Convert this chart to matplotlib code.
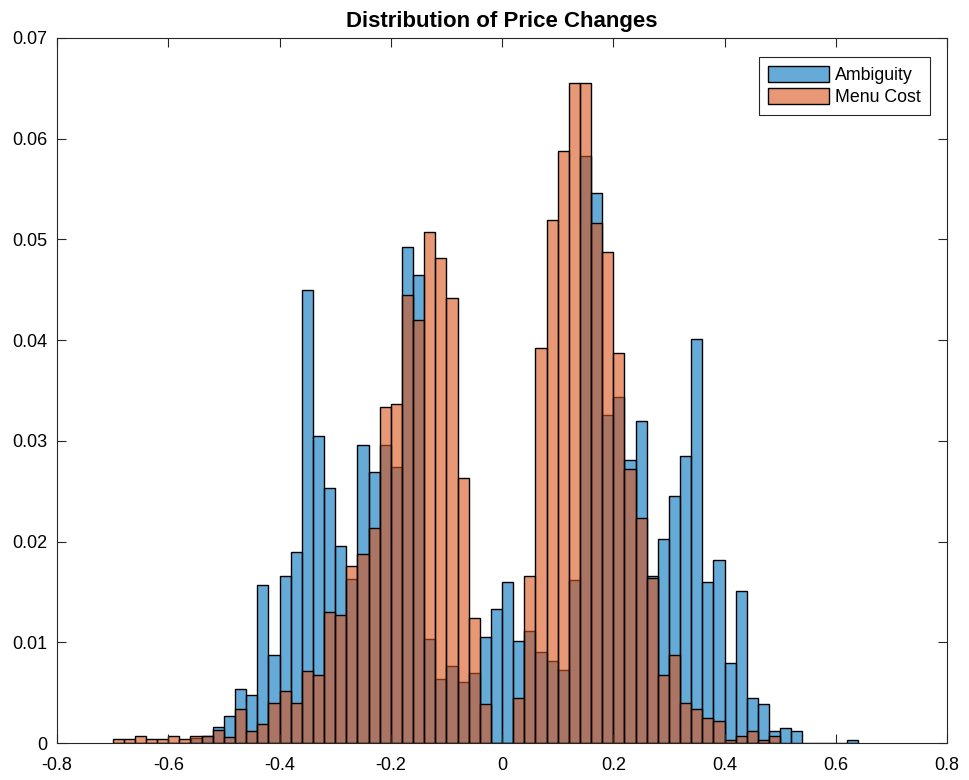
import numpy as np
import matplotlib
matplotlib.use("Agg")
import matplotlib.pyplot as plt

# histogram bins (width 0.02), left edge of first bin at -0.70
bin_width = 0.02
bin_left = np.round(-0.70 + bin_width * np.arange(67), 2)

# normalized frequencies
ambiguity = [0, 0, 0, 0, 0, 0, 0, 0.0005, 0.0007, 0.0016,
             0.0027, 0.0054, 0.0048, 0.0157, 0.0087, 0.0166, 0.0190, 0.0450, 0.0305, 0.0253,
             0.0196, 0.0163, 0.0296, 0.0269, 0.0296, 0.0274, 0.0492, 0.0465, 0.0103, 0.0064,
             0.0076, 0.0061, 0.0070, 0.0105, 0.0133, 0.0160, 0.0101, 0.0111, 0.0090, 0.0081,
             0.0072, 0.0162, 0.0583, 0.0546, 0.0326, 0.0344, 0.0281, 0.0320, 0.0166, 0.0203,
             0.0245, 0.0285, 0.0401, 0.0160, 0.0182, 0.0079, 0.0151, 0.0045, 0.0039, 0.0012,
             0.0015, 0.0012, 0, 0, 0, 0, 0.0003]
menu_cost = [0.0004, 0.0004, 0.0007, 0.0004, 0.0004, 0.0007, 0.0004, 0.0007, 0.0007, 0.0013,
             0.0006, 0.0034, 0.0012, 0.0019, 0.0040, 0.0052, 0.0040, 0.0071, 0.0068, 0.0130,
             0.0127, 0.0176, 0.0188, 0.0213, 0.0334, 0.0337, 0.0445, 0.0420, 0.0507, 0.0482,
             0.0442, 0.0263, 0.0124, 0.0039, 0, 0, 0.0045, 0.0166, 0.0392, 0.0519,
             0.0588, 0.0655, 0.0655, 0.0516, 0.0488, 0.0387, 0.0272, 0.0223, 0.0164, 0.0068,
             0.0087, 0.0040, 0.0034, 0.0025, 0.0022, 0.0003, 0.0007, 0.0012, 0.0003, 0.0007]
menu_left = bin_left[:len(menu_cost)]

blue = (0.0, 0.447, 0.741, 0.6)
orange = (0.85, 0.325, 0.098, 0.6)
axcol = (0.15, 0.15, 0.15)

plt.rcParams['font.family'] = ['Liberation Sans', 'DejaVu Sans']

fig = plt.figure(figsize=(9.69, 7.80), dpi=100)
ax = fig.add_axes([57 / 969, 1 - 743 / 780, 890 / 969, 705 / 780])

ax.bar(bin_left, ambiguity, width=bin_width, align='edge', color=blue,
       edgecolor='k', linewidth=1.0, label='Ambiguity')
ax.bar(menu_left, menu_cost, width=bin_width, align='edge', color=orange,
       edgecolor='k', linewidth=1.0, label='Menu Cost')

ax.set_xlim(-0.8, 0.8)
ax.set_ylim(0, 0.07)
xt = np.round(np.arange(-0.8, 0.81, 0.2), 1)
ax.set_xticks(xt)
ax.set_xticklabels(['0' if v == 0 else '%g' % v for v in xt])
yt = np.round(np.arange(0, 0.071, 0.01), 2)
ax.set_yticks(yt)
ax.set_yticklabels(['0' if v == 0 else '%g' % v for v in yt])

ax.tick_params(direction='in', length=6.5, width=0.8, colors=axcol, labelsize=13,
               top=True, right=True, labelcolor='k')
ax.tick_params(axis='x', pad=10)
ax.tick_params(axis='y', pad=7)
for s in ax.spines.values():
    s.set_color(axcol)
    s.set_linewidth(0.8)

ax.set_title('Distribution of Price Changes', fontsize=16, fontweight='bold', pad=8)

leg = ax.legend(loc='upper right', bbox_to_anchor=(0.9805, 0.973), fontsize=12.8,
                fancybox=False, framealpha=1, edgecolor=axcol, handlelength=3.4,
                handleheight=1.0, handletextpad=0.35, borderpad=0.5, labelspacing=0.25,
                borderaxespad=0)
leg.get_frame().set_linewidth(0.8)

fig.savefig('out.png', dpi=100)
